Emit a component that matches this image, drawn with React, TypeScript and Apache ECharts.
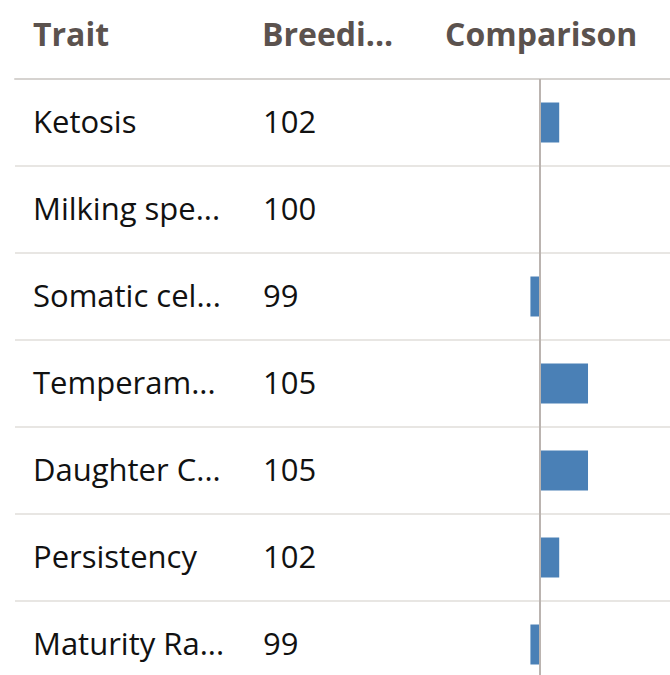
import React, { useEffect, useRef } from "react";
import * as echarts from "echarts";

const traits = [
  "Ketosis",
  "Milking spe...",
  "Somatic cel...",
  "Temperam...",
  "Daughter C...",
  "Persistency",
  "Maturity Ra...",
];
const breedingValues = [102, 100, 99, 105, 105, 102, 99];
const comparison = [2, 0, -1, 5, 5, 2, -1];
const headers = ["Trait", "Breedi...", "Comparison"];

export default function App() {
  const ref = useRef<HTMLDivElement>(null);
  useEffect(() => {
    if (!ref.current) return;
    const chart = echarts.init(ref.current, null, { renderer: "svg" });
    const font = "'Open Sans', 'Noto Sans', sans-serif";
    chart.setOption({
      animation: false,
      backgroundColor: "#ffffff",
      graphic: [
        { type: "text", left: 33, top: 17, style: { text: headers[0], font: `bold 32px ${font}`, fill: "#5b524e" } },
        { type: "text", left: 262, top: 17, style: { text: headers[1], font: `bold 32px ${font}`, fill: "#5b524e" } },
        { type: "text", left: 445, top: 17, style: { text: headers[2], font: `bold 32px ${font}`, fill: "#5b524e" } },
      ],
      grid: { left: 15, top: 79, width: 655, height: 609, containLabel: false },
      xAxis: {
        type: "value",
        position: "top",
        min: -54.69,
        max: 13.54,
        axisLine: { show: true, onZero: false, lineStyle: { color: "#d6d3d0", width: 2 } },
        axisTick: { show: false },
        axisLabel: { show: false },
        splitLine: { show: false },
      },
      yAxis: {
        type: "category",
        inverse: true,
        data: traits,
        axisLine: { show: false },
        axisTick: { show: false },
        splitLine: { show: true, lineStyle: { color: "#e8e6e3", width: 2 } },
        axisLabel: {
          inside: true,
          margin: 18,
          formatter: (v: string, i: number) => `{a|${v}}{b|${breedingValues[i]}}`,
          rich: {
            a: { width: 230, fontFamily: "Open Sans", fontSize: 31, color: "#111111", padding: [0, 0, 4, 0] },
            b: { fontFamily: "Open Sans", fontSize: 31, color: "#111111", padding: [0, 0, 4, 0] },
          },
        },
      },
      series: [
        {
          type: "bar",
          data: comparison,
          barWidth: 40,
          itemStyle: { color: "#4a80b6" },
          markLine: {
            silent: true,
            symbol: "none",
            label: { show: false },
            lineStyle: { color: "#bbb4b0", width: 2, type: "solid" },
            data: [{ xAxis: 0 }],
          },
        },
      ],
    });
    return () => chart.dispose();
  }, []);
  return (
    <div style={{ position: "fixed", left: 0, top: 0, width: 670, height: 675, overflow: "hidden" }}>
      <div ref={ref} style={{ width: 670, height: 690 }} />
    </div>
  );
}
